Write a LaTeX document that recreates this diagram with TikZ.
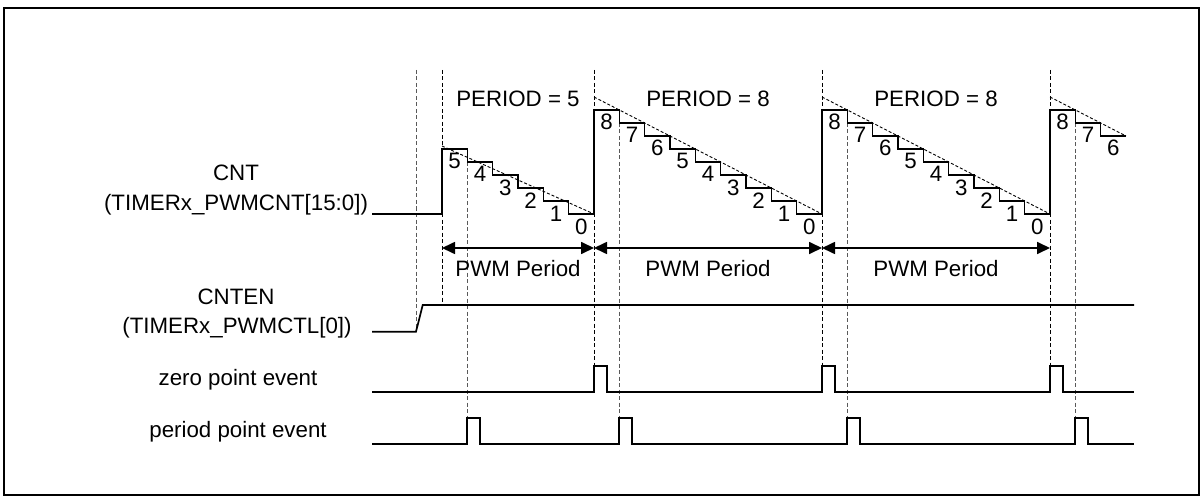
\documentclass[tikz,border=0pt]{standalone}
\usepackage{fontspec}
\setmainfont{Liberation Sans}
\usetikzlibrary{arrows.meta}
\begin{document}
\begin{tikzpicture}[x=1pt,y=-1pt,
  txt/.style={font=\fontsize{22.3}{26}\selectfont, inner sep=0pt, anchor=base},
  dig/.style={font=\fontsize{22.3}{26}\selectfont, inner sep=0pt, anchor=base},
  sig/.style={line width=1.7pt, line join=miter},
  stair/.style={line width=1.5pt, line join=miter},
  zdash/.style={line width=1pt, dash pattern=on 4pt off 2.5pt, black},
  pdash/.style={line width=1pt, dash pattern=on 4pt off 2.5pt, black!65},
  slope/.style={line width=0.9pt, dash pattern=on 3pt off 2pt, black},
  arr/.style={line width=1.7pt, {Triangle[length=13pt,width=12pt]}-{Triangle[length=13pt,width=12pt]}}
]
\useasboundingbox (0,0) rectangle (1201,497);
\draw[line width=2pt] (4,7.7) rectangle (1198.5,495);

% coordinates
\coordinate (t0) at (442,248);
\coordinate (t1) at (594,248);
\coordinate (t2) at (822,248);
\coordinate (t3) at (1050,248);

% vertical dashed guide lines
\draw[pdash] (416,70) -- (416,331.7);
\draw[zdash] (442,70) -- (442,305);
\foreach \x in {594,822,1050} \draw[zdash] (\x,70) -- (\x,366);
\draw[pdash] (467.33,149) -- (467.33,418);
\foreach \x in {619.33,847.33,1075.33} \draw[pdash] (\x,110) -- (\x,418);

% slope lines
\draw[slope] (442,146) -- (594,214);
\draw[slope] (594,97) -- (822,214);
\draw[slope] (822,97) -- (1050,214);
\draw[slope] (1050,97) -- (1126,136);

% CNT waveform
\draw[stair] (372,214) -- (442,214) -- (442,149) -- (467.33,149) -- (467.33,162) -- (492.67,162) -- (492.67,175) -- (518,175) -- (518,188) -- (543.33,188) -- (543.33,201) -- (568.67,201) -- (568.67,214) -- (594,214) -- (594,110)
 -- (619.33,110) -- (619.33,123) -- (644.67,123) -- (644.67,136) -- (670,136) -- (670,149) -- (695.33,149) -- (695.33,162) -- (720.67,162) -- (720.67,175) -- (746,175) -- (746,188) -- (771.33,188) -- (771.33,201) -- (796.67,201) -- (796.67,214) -- (822,214) -- (822,110)
 -- (847.33,110) -- (847.33,123) -- (872.67,123) -- (872.67,136) -- (898,136) -- (898,149) -- (923.33,149) -- (923.33,162) -- (948.67,162) -- (948.67,175) -- (974,175) -- (974,188) -- (999.33,188) -- (999.33,201) -- (1024.67,201) -- (1024.67,214) -- (1050,214) -- (1050,110)
 -- (1075.33,110) -- (1075.33,123) -- (1100.67,123) -- (1100.67,136) -- (1126,136);

% digits
\foreach \i in {0,...,5} {
  \pgfmathsetmacro\xx{442+(\i+0.5)*25.333}
  \pgfmathsetmacro\yy{149+13*\i+20}
  \pgfmathtruncatemacro\v{5-\i}
  \node[dig] (da\i) at (\xx,\yy) {\v};
}
\foreach \s/\n in {594/b,822/c} {
\foreach \i in {0,...,8} {
  \pgfmathsetmacro\xx{\s+(\i+0.5)*25.333}
  \pgfmathsetmacro\yy{110+13*\i+20}
  \pgfmathtruncatemacro\v{8-\i}
  \node[dig] (d\n\i) at (\xx,\yy) {\v};
}}
\foreach \i in {0,1,2} {
  \pgfmathsetmacro\xx{1050+(\i+0.5)*25.333}
  \pgfmathsetmacro\yy{110+13*\i+20}
  \pgfmathtruncatemacro\v{8-\i}
  \node[dig] (dd\i) at (\xx,\yy) {\v};
}

% period labels
\node[txt] (p1) at (518,106.5) {PERIOD = 5};
\node[txt] (p2) at (708,106.5) {PERIOD = 8};
\node[txt] (p3) at (936,106.5) {PERIOD = 8};

% PWM period arrows
\draw[arr] (t0) -- (t1);
\draw[arr] (t1) -- (t2);
\draw[arr] (t2) -- (t3);
\node[txt] (w1) at (518,276) {PWM Period};
\node[txt] (w2) at (708,276) {PWM Period};
\node[txt] (w3) at (936,276) {PWM Period};

% left labels
\node[txt] (l1) at (236,181) {CNT};
\node[txt] (l2) at (236,211) {(TIMERx\_PWMCNT[15:0])};
\node[txt] (l3) at (236,304) {CNTEN};
\node[txt] (l4) at (237,333) {(TIMERx\_PWMCTL[0])};
\node[txt] (l5) at (238,385) {zero point event};
\node[txt] (l6) at (238,437.5) {period point event};

% CNTEN
\draw[sig] (372,331.7) -- (416,331.7) -- (422.7,305) -- (1134,305);

% zero point event
\draw[sig] (372,392) -- (594,392) -- (594,366) -- (607,366) -- (607,392)
  -- (822,392) -- (822,366) -- (835,366) -- (835,392)
  -- (1050,392) -- (1050,366) -- (1063,366) -- (1063,392) -- (1134,392);

% period point event
\draw[sig] (372,444) -- (467.33,444) -- (467.33,418) -- (480,418) -- (480,444)
  -- (619.33,444) -- (619.33,418) -- (632,418) -- (632,444)
  -- (847.33,444) -- (847.33,418) -- (860,418) -- (860,444)
  -- (1075.33,444) -- (1075.33,418) -- (1088,418) -- (1088,444) -- (1134,444);
\end{tikzpicture}
\end{document}
